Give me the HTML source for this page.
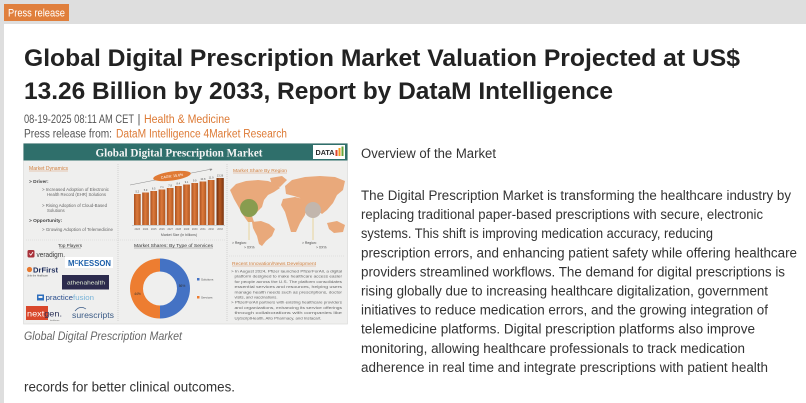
<!DOCTYPE html>
<html><head><meta charset="utf-8"><style>
html,body{margin:0;padding:0;width:806px;height:403px;overflow:hidden;background:#dedede}
svg{display:block}
</style></head><body>
<svg width="806" height="403" viewBox="0 0 806 403" xmlns="http://www.w3.org/2000/svg" font-family="'Liberation Sans', sans-serif">
<defs>
<linearGradient id="bar" x1="0" y1="0" x2="1" y2="0">
<stop offset="0" stop-color="#a9501f"/><stop offset="0.45" stop-color="#dc7a3c"/><stop offset="1" stop-color="#b2561f"/>
</linearGradient>
<linearGradient id="bar2" x1="0" y1="0" x2="1" y2="0">
<stop offset="0" stop-color="#6e2d0c"/><stop offset="0.45" stop-color="#b65a22"/><stop offset="1" stop-color="#7a3410"/>
</linearGradient>
</defs>
<rect width="806" height="403" fill="#dedede"/>
<rect x="4" y="24" width="802" height="379" fill="#ffffff"/>
<rect x="4" y="4" width="65" height="17" fill="#e07f3c"/>
<text x="8" y="16.5" font-size="11" fill="#fff" textLength="57" lengthAdjust="spacingAndGlyphs">Press release</text>

<text x="24" y="66" font-size="24" font-weight="bold" fill="#222" textLength="716" lengthAdjust="spacingAndGlyphs">Global Digital Prescription Market Valuation Projected at US$</text>
<text x="24" y="99" font-size="24" font-weight="bold" fill="#222" textLength="589" lengthAdjust="spacingAndGlyphs">13.26 Billion by 2033, Report by DataM Intelligence</text>

<text x="24" y="123" font-size="11.5" fill="#555" textLength="110" lengthAdjust="spacingAndGlyphs">08-19-2025 08:11 AM CET</text>
<text x="137.5" y="123" font-size="11.5" fill="#555">|</text>
<text x="144" y="123" font-size="11.5" fill="#dd7a35" textLength="86" lengthAdjust="spacingAndGlyphs">Health &amp; Medicine</text>
<text x="24" y="137.5" font-size="11.5" fill="#555" textLength="88" lengthAdjust="spacingAndGlyphs">Press release from:</text>
<text x="116" y="137.5" font-size="11.5" fill="#dd7a35" textLength="171" lengthAdjust="spacingAndGlyphs">DataM Intelligence 4Market Research</text>

<!-- Infographic -->
<rect x="23.5" y="143.5" width="324" height="180.5" fill="#efefee" stroke="#d6d6d6" stroke-width="0.6"/>
<rect x="23.5" y="143.5" width="324" height="17" fill="#2f6f6b"/>
<text x="179" y="156.5" text-anchor="middle" font-family="'Liberation Serif', serif" font-weight="bold" font-size="11.5" fill="#f4f4f4" textLength="167" lengthAdjust="spacingAndGlyphs">Global Digital Prescription Market</text>
<rect x="313" y="145" width="32" height="14" fill="#fff"/>
<text x="315.5" y="155" font-size="7" font-weight="bold" fill="#2b2b2b" textLength="19" lengthAdjust="spacingAndGlyphs">DATA</text>
<rect x="335.5" y="150" width="2" height="6" fill="#e2452e"/>
<rect x="338.5" y="148" width="2" height="8" fill="#f39a1e"/>
<rect x="341.5" y="146.5" width="2" height="9.5" fill="#6aa63a"/>

<line x1="118" y1="164" x2="118" y2="321" stroke="#bdbdbd" stroke-width="0.6" stroke-dasharray="1,1"/>
<line x1="227" y1="164" x2="227" y2="321" stroke="#bdbdbd" stroke-width="0.6" stroke-dasharray="1,1"/>
<line x1="26" y1="240" x2="225" y2="240" stroke="#cfcfcf" stroke-width="0.5" stroke-dasharray="1,1"/>
<line x1="229" y1="256" x2="345" y2="256" stroke="#cfcfcf" stroke-width="0.5" stroke-dasharray="1,1"/>

<!-- left top -->
<text x="29" y="170" font-size="5" fill="#d2803f" textLength="39" lengthAdjust="spacingAndGlyphs">Market Dynamics</text>
<line x1="29" y1="171" x2="68" y2="171" stroke="#d2803f" stroke-width="0.35"/>
<text x="29" y="183" font-size="4.8" font-weight="bold" fill="#444">&gt; Driver:</text>
<text x="42" y="191" font-size="4.3" fill="#666" textLength="67" lengthAdjust="spacingAndGlyphs">&gt; Increased Adoption of Electronic</text>
<text x="47" y="196" font-size="4.3" fill="#666" textLength="59" lengthAdjust="spacingAndGlyphs">Health Record (EHR) Solutions</text>
<text x="42" y="207" font-size="4.3" fill="#666" textLength="65" lengthAdjust="spacingAndGlyphs">&gt; Rising Adoption of Cloud-Based</text>
<text x="47" y="212" font-size="4.3" fill="#666">Solutions</text>
<text x="29" y="222" font-size="4.8" font-weight="bold" fill="#444">&gt; Opportunity:</text>
<text x="42" y="231" font-size="4.3" fill="#666" textLength="71" lengthAdjust="spacingAndGlyphs">&gt; Growing Adoption of Telemedicine</text>

<!-- bar chart -->
<line x1="130" y1="185" x2="212" y2="169" stroke="#8a8a8a" stroke-width="0.5"/>
<path d="M212.5,169 L209.5,168.6 L210.5,171 Z" fill="#8a8a8a"/>
<g>
<rect x="134" y="194" width="6.7" height="31" fill="url(#bar)"/>
<rect x="142.2" y="192.5" width="6.7" height="32.5" fill="url(#bar)"/>
<rect x="150.4" y="191" width="6.7" height="34" fill="url(#bar)"/>
<rect x="158.6" y="189.5" width="6.7" height="35.5" fill="url(#bar)"/>
<rect x="166.8" y="188" width="6.7" height="37" fill="url(#bar)"/>
<rect x="175" y="186" width="6.7" height="39" fill="url(#bar)"/>
<rect x="183.2" y="184.5" width="6.7" height="40.5" fill="url(#bar)"/>
<rect x="191.4" y="183" width="6.7" height="42" fill="url(#bar)"/>
<rect x="199.6" y="181.5" width="6.7" height="43.5" fill="url(#bar)"/>
<rect x="207.8" y="180" width="6.7" height="45" fill="url(#bar)"/>
<rect x="216.5" y="178" width="7.3" height="47" fill="url(#bar2)"/>
</g>
<g font-size="2.6" fill="#555" text-anchor="middle">
<text x="137.3" y="192.5">5.2</text><text x="145.5" y="191">5.9</text><text x="153.7" y="189.5">6.5</text><text x="161.9" y="188">7.1</text><text x="170.1" y="186.5">7.8</text><text x="178.3" y="184.5">8.4</text><text x="186.5" y="183">9.1</text><text x="194.7" y="181.5">9.9</text><text x="202.9" y="180">10.8</text><text x="211.1" y="178.5">11.9</text><text x="220" y="176.5">13.26</text>
</g>
<line x1="132" y1="225.5" x2="225" y2="225.5" stroke="#9a9a9a" stroke-width="0.4"/>
<g font-size="2.5" fill="#666" text-anchor="middle">
<text x="137.3" y="230">2023</text><text x="145.5" y="230">2024</text><text x="153.7" y="230">2025</text><text x="161.9" y="230">2026</text><text x="170.1" y="230">2027</text><text x="178.3" y="230">2028</text><text x="186.5" y="230">2029</text><text x="194.7" y="230">2030</text><text x="202.9" y="230">2031</text><text x="211.1" y="230">2032</text><text x="220" y="230">2033</text>
</g>
<text x="179" y="236" text-anchor="middle" font-size="3.5" fill="#555">Market Size (in billions)</text>
<g transform="rotate(-8 172 176)">
<ellipse cx="172" cy="176" rx="19" ry="4.5" fill="#e07a35"/>
<text x="172" y="177.3" text-anchor="middle" font-size="3.6" fill="#fff">CAGR: 15.6%</text>
</g>

<!-- map -->
<text x="233" y="172" font-size="4.8" fill="#d2803f" textLength="54" lengthAdjust="spacingAndGlyphs">Market Share By Region</text>
<line x1="233" y1="173" x2="287" y2="173" stroke="#d2803f" stroke-width="0.35"/>
<g fill="#e9a97b">
<path d="M230,190 L236,184 L246,181 L258,180 L268,181 L276,184 L280,188 L274,192 L268,195 L264,200 L262,207 L257,212 L252,216 L254,222 L248,222 L243,215 L238,206 L234,199 Z"/>
<path d="M270,178 L282,176 L287,180 L280,187 L272,185 Z"/>
<path d="M252,222 L261,221 L269,224 L275,229 L272,236 L266,241 L262,246 L259,244 L257,236 L253,228 Z"/>
<path d="M285,186 L292,180 L305,177 L320,176 L335,177 L345,181 L343,190 L337,195 L333,203 L327,210 L322,214 L317,210 L311,208 L305,205 L300,198 L294,196 L286,194 Z"/>
<path d="M283,199 L295,197 L303,199 L307,206 L305,215 L300,223 L296,232 L291,232 L288,222 L285,212 L281,205 Z"/>
<path d="M327,223 L337,221 L345,225 L343,232 L334,233 L329,229 Z"/>
</g>
<line x1="249" y1="210" x2="249" y2="240" stroke="#e0b84a" stroke-width="0.5"/>
<line x1="313" y1="212" x2="313" y2="240" stroke="#e0b84a" stroke-width="0.5"/>
<circle cx="249" cy="208" r="9" fill="#7d9a4a" fill-opacity="0.9"/>
<circle cx="313" cy="210" r="8" fill="#c2b6ad"/>
<g font-size="3.4" fill="#444">
<text x="232" y="244">&gt; Region:</text><text x="244" y="248.5">&gt; XX%</text>
<text x="302" y="244">&gt; Region:</text><text x="316" y="248.5">&gt; XX%</text>
</g>

<!-- top players -->
<text x="70" y="247" text-anchor="middle" font-size="4.6" fill="#333">Top Players</text>
<line x1="59" y1="248" x2="81" y2="248" stroke="#333" stroke-width="0.3"/>
<rect x="27.5" y="250" width="7" height="7.5" rx="1.5" fill="#a8323a"/>
<path d="M29.3,253.5 L30.8,255.2 L33,252" stroke="#fff" stroke-width="0.8" fill="none"/>
<text x="36.5" y="257" font-size="7.5" fill="#3a3a3a" textLength="28.5" lengthAdjust="spacingAndGlyphs">veradigm.</text>
<rect x="65" y="257" width="48" height="11" fill="#fff"/>
<text x="68" y="266" font-size="8" font-weight="bold" fill="#1b5fa9" textLength="43" lengthAdjust="spacingAndGlyphs">M<tspan font-size="5.5" dy="-2">C</tspan><tspan dy="2">KESSON</tspan></text>
<circle cx="29.5" cy="269.5" r="2.6" fill="#e8792f"/>
<text x="33" y="272.5" font-size="7.5" font-weight="bold" fill="#1d2c5a" textLength="25" lengthAdjust="spacingAndGlyphs">DrFirst</text>
<text x="27" y="276.5" font-size="2.3" fill="#555">Unite the Healthcare</text>
<rect x="62" y="275" width="47" height="14.5" fill="#2c2b4d"/>
<text x="86" y="284.5" text-anchor="middle" font-size="5.5" fill="#e4eed6" textLength="38" lengthAdjust="spacingAndGlyphs">athenahealth</text>
<path d="M37,294.5 L44,294.5 L44,300.5 L37,300.5 Z" fill="#2e6fbd"/>
<rect x="38.5" y="296" width="4" height="2" fill="#efefee"/>
<text x="45.5" y="300" font-size="7.2" fill="#2b4f8e" textLength="48.5" lengthAdjust="spacingAndGlyphs">practice<tspan fill="#77b3d8">fusion</tspan></text>
<rect x="26" y="306" width="22" height="14" fill="#d9472b"/>
<text x="27" y="316.5" font-size="8.5" fill="#fff" textLength="35" lengthAdjust="spacingAndGlyphs">next<tspan fill="#2a2f55">gen.</tspan></text>
<text x="50" y="321" font-size="2" fill="#666">healthcare</text>
<path d="M75,311 Q80,305 86,309" stroke="#3b5b86" stroke-width="0.7" fill="none"/>
<text x="72" y="318" font-size="8" fill="#3b5b86" textLength="42" lengthAdjust="spacingAndGlyphs">surescripts</text>

<!-- donut -->
<text x="173.5" y="247" text-anchor="middle" font-size="4.5" fill="#333" textLength="79" lengthAdjust="spacingAndGlyphs">Market Shares: By Type of Services</text>
<line x1="134" y1="248" x2="213" y2="248" stroke="#333" stroke-width="0.3"/>
<path d="M160,258.5 A30,30 0 0 1 160,318.5 L160,305.5 A17,17 0 0 0 160,271.5 Z" fill="#4472c4"/>
<path d="M160,318.5 A30,30 0 0 1 160,258.5 L160,271.5 A17,17 0 0 0 160,305.5 Z" fill="#ed7d31"/>
<text x="182" y="287" text-anchor="middle" font-size="3.3" fill="#333">56%</text>
<text x="137.5" y="295" text-anchor="middle" font-size="3.3" fill="#333">44%</text>
<rect x="197" y="278" width="2.5" height="2.5" fill="#4472c4"/>
<text x="201" y="280.5" font-size="3" fill="#555">Solutions</text>
<rect x="197" y="296" width="2.5" height="2.5" fill="#ed7d31"/>
<text x="201" y="298.5" font-size="3" fill="#555">Services</text>

<!-- news -->
<text x="232" y="265" font-size="4.8" fill="#d2803f" textLength="84" lengthAdjust="spacingAndGlyphs">Recent Innovation/News Development</text>
<line x1="232" y1="266" x2="316" y2="266" stroke="#d2803f" stroke-width="0.35"/>
<g font-size="3.9" fill="#666">
<text x="231" y="272.5" textLength="111" lengthAdjust="spacingAndGlyphs">&gt; In August 2024, Pfizer launched PfizerForAll, a digital</text>
<text x="234.5" y="277.7" textLength="107.5" lengthAdjust="spacingAndGlyphs">platform designed to make healthcare access easier</text>
<text x="234.5" y="282.9" textLength="107.5" lengthAdjust="spacingAndGlyphs">for people across the U.S. The platform consolidates</text>
<text x="234.5" y="288.1" textLength="107.5" lengthAdjust="spacingAndGlyphs">essential services and resources, helping users</text>
<text x="234.5" y="293.3" textLength="107.5" lengthAdjust="spacingAndGlyphs">manage health needs such as prescriptions, doctor</text>
<text x="234.5" y="298.5" textLength="43" lengthAdjust="spacingAndGlyphs">visits, and vaccinations.</text>
<text x="231" y="303.7" textLength="111" lengthAdjust="spacingAndGlyphs">&gt; PfizerForAll partners with existing healthcare providers</text>
<text x="234.5" y="308.9" textLength="107.5" lengthAdjust="spacingAndGlyphs">and organizations, enhancing its service offerings</text>
<text x="234.5" y="314.1" textLength="107.5" lengthAdjust="spacingAndGlyphs">through collaborations with companies like</text>
<text x="234.5" y="319.3" textLength="87" lengthAdjust="spacingAndGlyphs">UpScriptHealth, Alto Pharmacy, and Instacart.</text>
</g>

<!-- caption -->
<text x="24" y="340" font-size="11.5" font-style="italic" fill="#666" textLength="158" lengthAdjust="spacingAndGlyphs">Global Digital Prescription Market</text>

<!-- right column -->
<text x="361" y="158" font-size="13.5" fill="#333" textLength="135" lengthAdjust="spacingAndGlyphs">Overview of the Market</text>
<g font-size="13.5" fill="#333">
<text x="361" y="200" textLength="430" lengthAdjust="spacingAndGlyphs">The Digital Prescription Market is transforming the healthcare industry by</text>
<text x="361" y="219.1" textLength="402" lengthAdjust="spacingAndGlyphs">replacing traditional paper-based prescriptions with secure, electronic</text>
<text x="361" y="238.2" textLength="352" lengthAdjust="spacingAndGlyphs">systems. This shift is improving medication accuracy, reducing</text>
<text x="361" y="257.3" textLength="436" lengthAdjust="spacingAndGlyphs">prescription errors, and enhancing patient safety while offering healthcare</text>
<text x="361" y="276.4" textLength="424" lengthAdjust="spacingAndGlyphs">providers streamlined workflows. The demand for digital prescriptions is</text>
<text x="361" y="295.5" textLength="407" lengthAdjust="spacingAndGlyphs">rising globally due to increasing healthcare digitalization, government</text>
<text x="361" y="314.6" textLength="407" lengthAdjust="spacingAndGlyphs">initiatives to reduce medication errors, and the growing integration of</text>
<text x="361" y="333.7" textLength="394" lengthAdjust="spacingAndGlyphs">telemedicine platforms. Digital prescription platforms also improve</text>
<text x="361" y="352.8" textLength="384" lengthAdjust="spacingAndGlyphs">monitoring, allowing healthcare professionals to track medication</text>
<text x="361" y="371.9" textLength="407" lengthAdjust="spacingAndGlyphs">adherence in real time and integrate prescriptions with patient health</text>
<text x="24" y="391.5" textLength="211" lengthAdjust="spacingAndGlyphs">records for better clinical outcomes.</text>
</g>
</svg>
</body></html>
